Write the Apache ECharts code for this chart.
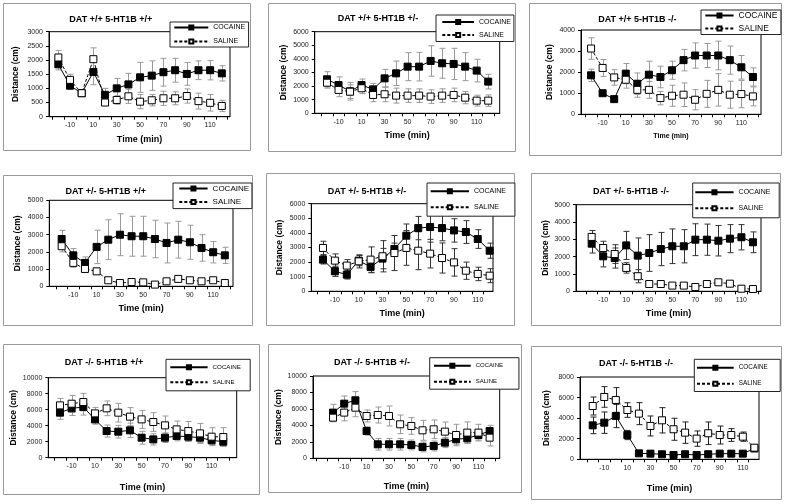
<!DOCTYPE html>
<html><head><meta charset="utf-8">
<script src="https://cdn.jsdelivr.net/npm/echarts@6/dist/echarts.min.js"></script>
<style>html,body{margin:0;padding:0;background:#fff}#c{width:790px;height:504px}</style>
</head><body><div id="c"></div>
<script>
// ---------- DATA ----------
const times = [-20,-10,0,10,20,30,40,50,60,70,80,90,100,110,120];
const xTickLabels = [-10,10,30,50,70,90,110];
const xTickMarks = [-35,-25,-15,-5,5,15,25,35,45,55,65,75,85,95,105,115,125];
const seriesNames = ['COCAINE','SALINE'];
const panelTitles = [
  'DAT +/+ 5-HT1B +/+','DAT +/+ 5-HT1B +/-','DAT +/+ 5-HT1B -/-',
  'DAT +/- 5-HT1B +/+','DAT +/- 5-HT1B +/-','DAT +/- 5-HT1B -/-',
  'DAT -/- 5-HT1B +/+','DAT -/- 5-HT1B +/-','DAT -/- 5-HT1B -/-'
];
const yMaxes = [3000,6000,4000,5000,6000,5000,10000,10000,8000];
const yIntervals = [500,1000,1000,1000,1000,1000,2000,2000,2000];

const p1Coc    = [1850,1095,830,1580,770,1000,1140,1390,1450,1570,1640,1510,1640,1640,1530];
const p1CocErr = [200,120,80,450,230,350,390,530,520,490,420,400,330,340,270];
const p1Sal    = [2090,1300,830,2030,500,590,720,530,580,650,650,730,550,490,380];
const p1SalErr = [250,200,80,400,100,150,250,250,200,250,230,250,280,290,200];

const p2Coc    = [2500,2080,1620,2080,1760,2570,2940,3430,3430,3850,3680,3630,3430,3140,2330];
const p2CocErr = [560,600,650,440,440,660,900,1030,1050,1120,1100,1150,1030,830,540];
const p2Sal    = [2250,1720,1590,1840,1350,1400,1300,1300,1300,1230,1300,1350,1150,930,930];
const p2SalErr = [400,500,500,400,500,550,550,500,500,500,500,500,450,400,420];

const p3Coc    = [1850,1000,720,1930,1450,1880,1770,2090,2570,2790,2790,2790,2570,2230,1770];
const p3CocErr = [290,100,100,480,510,640,510,430,510,600,570,680,670,560,430];
const p3Sal    = [3120,2200,1750,1640,1160,1160,770,880,930,690,970,1160,930,960,850];
const p3SalErr = [510,400,370,400,350,400,320,500,560,480,640,770,640,650,450];

const p4Coc    = [2750,1800,1360,2290,2710,3000,2910,2910,2750,2520,2710,2560,2230,1980,1800];
const p4CocErr = [500,390,350,970,1160,1220,1160,1160,1090,1160,1070,990,770,620,470];
const p4Sal    = [2330,1360,1010,870,350,190,250,230,100,290,430,350,290,350,190];
const p4SalErr = [330,250,200,150,100,80,80,80,60,100,120,100,100,100,60];

const p5Coc    = [2170,1370,1140,2100,1670,2240,2900,3810,4330,4400,4330,4170,4060,3580,2780];
const p5CocErr = [300,350,300,350,400,700,400,800,800,1030,870,800,780,640,520];
const p5Sal    = [2970,2100,1760,2050,2170,2400,2620,2970,2780,2580,2280,1980,1410,1190,1070];
const p5SalErr = [460,460,410,450,870,1070,1200,1190,1300,980,1030,940,590,460,480];

const p6Coc    = [2750,2020,1920,2650,2060,2210,2440,2600,2600,2980,2980,2920,3040,3120,2830];
const p6CocErr = [540,610,580,810,1020,1060,960,1000,960,920,900,880,810,730,600];
const p6Sal    = [3140,2500,2150,1350,870,420,420,330,330,250,420,520,440,150,130];
const p6SalErr = [370,390,540,300,380,100,80,80,80,60,150,120,120,60,40];

const p7Coc    = [5630,6170,6330,4790,3330,3250,3420,2500,2290,2500,2710,2630,2500,2170,2000];
const p7CocErr = [830,900,1000,600,750,790,900,800,700,600,600,600,600,500,500];
const p7Sal    = [6540,6750,6960,5540,6170,5630,5130,4790,4460,4040,3540,3330,3040,2630,2580];
const p7SalErr = [875,1040,1080,750,920,1170,1130,1130,1170,1170,1040,1200,1250,1120,1170];

const p8Coc    = [5550,6640,7050,3320,1700,1700,1700,1620,1380,1500,1900,2310,2430,2830,3320];
const p8CocErr = [1010,930,1050,500,700,700,700,600,600,600,600,600,600,600,690];
const p8Sal    = [4940,5550,6150,5140,5260,5140,4130,3930,3400,3520,3240,2830,3120,3120,2510];
const p8SalErr = [500,1000,1100,730,970,1210,1130,1010,1210,1130,1170,1300,1300,1010,1010];

const p9Coc    = [3300,3560,4210,2360,580,550,490,420,490,420,490,550,550,550,1050];
const p9CocErr = [810,1040,1130,450,100,80,80,60,80,60,80,80,80,80,150];
const p9Sal    = [5180,6060,5770,4790,4440,3240,3790,2920,2590,2010,2530,2360,2360,2200,1130];
const p9SalErr = [875,1000,1200,710,1070,970,1230,1070,1040,745,1100,875,620,450,260];

const cocData = [p1Coc,p2Coc,p3Coc,p4Coc,p5Coc,p6Coc,p7Coc,p8Coc,p9Coc];
const cocErrData = [p1CocErr,p2CocErr,p3CocErr,p4CocErr,p5CocErr,p6CocErr,p7CocErr,p8CocErr,p9CocErr];
const salData = [p1Sal,p2Sal,p3Sal,p4Sal,p5Sal,p6Sal,p7Sal,p8Sal,p9Sal];
const salErrData = [p1SalErr,p2SalErr,p3SalErr,p4SalErr,p5SalErr,p6SalErr,p7SalErr,p8SalErr,p9SalErr];

// ---------- LAYOUT (positions / styles) ----------
const layout = [
 {g:[49,31.7,230,116.7], xr:[-28,127], box:[3.3,3.3,250,150], t:[110.8,20], yGap:29, xGap:18, xNs:9, lg:{l:170,t:22,iw:34,pad:[1.5,3.4,1.5,3.3],gap:5,fs:7,lh:8}, err:'#999'},
 {g:[314.7,31.7,499.7,113.3], xr:[-30.7,130], box:[268,3.3,514.7,151.7], t:[378,18.3], yGap:27, xGap:18, xNs:9, lg:{l:436,t:15,iw:31.7,pad:[3,3,2.5,5.3],gap:4,fs:7,lh:8}, err:'#999'},
 {g:[581,30,761,114.3], xr:[-28.7,127], box:[529.3,3.3,781,155], t:[637.3,20], yGap:27, xGap:18, xNs:7, lg:{l:701,t:10,iw:28.3,pad:[1,3.6,1.5,3.3],gap:3,fs:8.5,lh:9}, err:'#999'},
 {g:[49.3,200.3,233,286.3], xr:[-30.6,127], box:[3.3,174.7,252.3,324.7], t:[105.8,192], yGap:27, xGap:18, xNs:9, lg:{l:173,t:183,iw:28.3,pad:[1,2.9,2,5.3],gap:3.6,fs:8,lh:9}, err:'#999'},
 {g:[311.3,203.7,493,291.3], xr:[-29.8,122.8], box:[266.3,173,514.7,324.7], t:[367,192], yGap:27, xGap:18, xNs:9, lg:{l:427,t:183,iw:38.3,pad:[4.3,9,4.9,2.7],gap:7,fs:7,lh:8}, err:'#333'},
 {g:[576,204.7,761,291.3], xr:[-33.6,127], box:[531,173,780,324.7], t:[631,192], yGap:24, xGap:18, xNs:9, lg:{l:692.7,t:183,iw:38.3,pad:[5.3,8.7,5.5,1.6],gap:7,fs:7,lh:8}, err:'#333'},
 {g:[48.3,377.7,236.7,457.7], xr:[-30,131.5], box:[2.7,344.3,258.3,494.3], t:[104,362.7], yGap:30, xGap:25, xNs:9, lg:{l:166,t:359.3,iw:37.3,pad:[4,9.4,4.5,3.3],gap:6,fs:6.2,lh:8}, err:'#999'},
 {g:[313,376,499.7,458.3], xr:[-37.9,129], box:[268,344.3,521.3,492.7], t:[372,362.7], yGap:24, xGap:24, xNs:9, lg:{l:429.7,t:357.7,iw:36.7,pad:[4,15.9,3.5,3.3],gap:7,fs:6,lh:8}, err:'#999'},
 {g:[580,377,759,459.3], xr:[-31,124], box:[531,346,781,499.3], t:[636,363.3], yGap:29, xGap:25, xNs:9, lg:{l:694.3,t:359.3,iw:36.7,pad:[4.4,12.4,3.8,1.7],gap:7,fs:6.4,lh:8}, err:'#222'}
];

const FONT = '"Liberation Sans", Arial, sans-serif';

function makeErr(color){
  return function(params, api){
    const x = api.value(0), y = api.value(1), e = api.value(2);
    const a = api.coord([x, y + e]);
    const b = api.coord([x, Math.max(0, y - e)]);
    const cx = Math.round(a[0]) + 0.5;
    const hw = 3;
    const st = {stroke: color, lineWidth: 1};
    return {type:'group', children:[
      {type:'line', shape:{x1:cx, y1:a[1], x2:cx, y2:b[1]}, style:st},
      {type:'line', shape:{x1:cx-hw, y1:a[1], x2:cx+hw, y2:a[1]}, style:st},
      {type:'line', shape:{x1:cx-hw, y1:b[1], x2:cx+hw, y2:b[1]}, style:st}
    ]};
  };
}

const grids = [], xAxes = [], yAxes = [], series = [], legends = [], graphics = [];

layout.forEach((L, i) => {
  const [gl, gt, gr, gb] = L.g;
  grids.push({left:gl, top:gt, width:gr-gl, height:gb-gt, show:true, borderColor:'#000', borderWidth:1,
    backgroundColor:'#fff', containLabel:false, outerBoundsMode:'none'});
  xAxes.push({type:'value', gridIndex:i, min:L.xr[0], max:L.xr[1],
    name:'Time (min)', nameLocation:'middle', nameGap:L.xGap,
    nameTextStyle:{fontFamily:FONT, fontWeight:'bold', fontSize:L.xNs, color:'#000'},
    axisLine:{show:true, onZero:false, lineStyle:{color:'#000', width:1}},
    axisTick:{show:true, length:3, customValues:xTickMarks.filter(v => v > L.xr[0] && v < L.xr[1]), lineStyle:{color:'#000'}},
    axisLabel:{customValues:xTickLabels, fontSize:7, color:'#222', margin:5, fontFamily:FONT, formatter:v => String(v)},
    splitLine:{show:false}});
  yAxes.push({type:'value', gridIndex:i, min:0, max:yMaxes[i], interval:yIntervals[i],
    name:'Distance (cm)', nameLocation:'middle', nameGap:L.yGap, nameRotate:90,
    nameTextStyle:{fontFamily:FONT, fontWeight:'bold', fontSize:8.5, color:'#000'},
    axisLine:{show:true, onZero:false, lineStyle:{color:'#000', width:1}},
    axisTick:{show:true, length:3, lineStyle:{color:'#000'}},
    axisLabel:{fontSize:7, color:'#222', margin:6, fontFamily:FONT, formatter:v => String(v)},
    splitLine:{show:false}});

  const errFn = makeErr(L.err);
  series.push({type:'custom', name:'errC'+i, xAxisIndex:i, yAxisIndex:i, renderItem:errFn,
    data: times.map((t,k) => [t, cocData[i][k], cocErrData[i][k]]), encode:{x:0, y:1}, z:1, silent:true});
  series.push({type:'custom', name:'errS'+i, xAxisIndex:i, yAxisIndex:i, renderItem:errFn,
    data: times.map((t,k) => [t, salData[i][k], salErrData[i][k]]), encode:{x:0, y:1}, z:1, silent:true});
  series.push({type:'line', name:seriesNames[0], xAxisIndex:i, yAxisIndex:i,
    data: times.map((t,k) => [t, cocData[i][k]]), symbol:'rect', symbolSize:7, showAllSymbol:true,
    lineStyle:{color:'#000', width:1}, itemStyle:{color:'#000', borderColor:'#000', borderWidth:1},
    z:3, silent:true, emphasis:{disabled:true}});
  series.push({type:'line', name:seriesNames[1], xAxisIndex:i, yAxisIndex:i,
    data: times.map((t,k) => [t, salData[i][k]]), symbol:'rect', symbolSize:7, showAllSymbol:true,
    lineStyle:{color:'#000', width:1, type:[3,2]}, itemStyle:{color:'#fff', borderColor:'#000', borderWidth:1},
    z:4, silent:true, emphasis:{disabled:true}});

  const lg = L.lg;
  legends.push({data:seriesNames, left:lg.l, top:lg.t, orient:'vertical', itemWidth:lg.iw, itemHeight:5,
    itemGap:lg.gap + 1, padding:lg.pad, borderColor:'#222', borderWidth:1, backgroundColor:'#fff',
    selectedMode:false, z:10,
    textStyle:{fontSize:lg.fs, lineHeight:lg.lh, fontFamily:FONT, color:'#000'}});

  const [bx1, by1, bx2, by2] = L.box;
  graphics.push({type:'rect', shape:{x:Math.round(bx1)+0.5, y:Math.round(by1)+0.5, width:Math.round(bx2-bx1), height:Math.round(by2-by1)},
    style:{fill:'none', stroke:'#999', lineWidth:1}, z:0, silent:true});
  graphics.push({type:'text', x:L.t[0], y:L.t[1], z:20, silent:true,
    style:{text:panelTitles[i], fill:'#000', font:'bold 9px ' + FONT, align:'center', verticalAlign:'middle'}});
});

const chart = echarts.init(document.getElementById('c'), null, {renderer:'canvas'});
chart.setOption({
  animation:false,
  backgroundColor:'#fff',
  grid:grids, xAxis:xAxes, yAxis:yAxes, series:series, legend:legends,
  graphic:{elements:graphics}
});
</script></body></html>
